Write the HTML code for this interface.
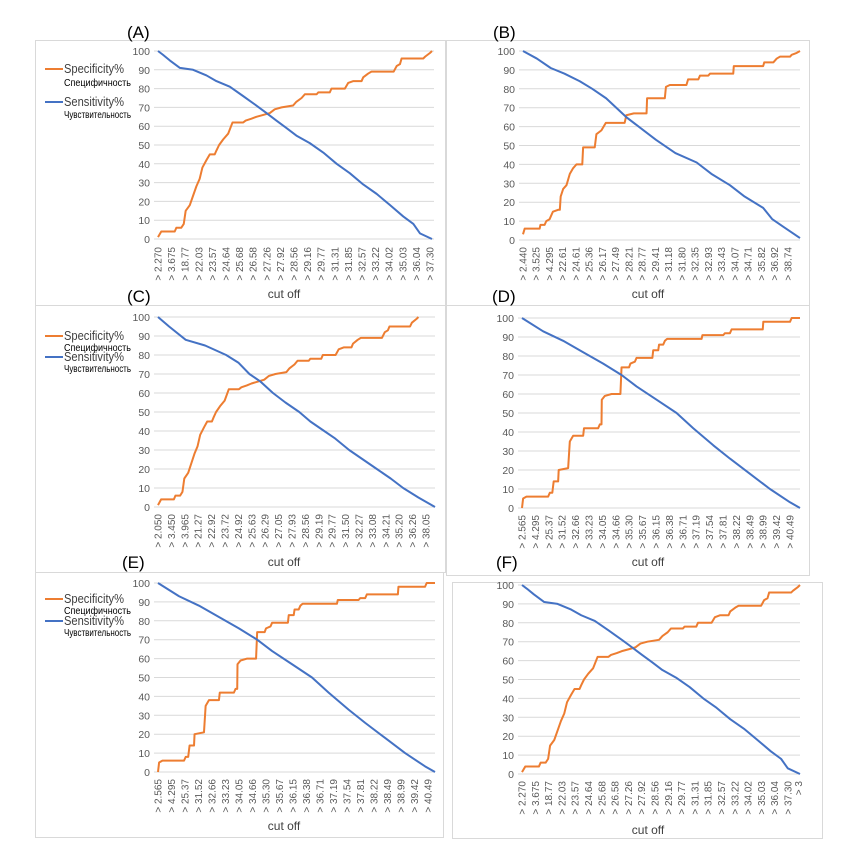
<!DOCTYPE html>
<html><head><meta charset="utf-8"><style>
html,body{margin:0;padding:0;background:#fff;}
svg{display:block;font-family:"Liberation Sans","DejaVu Sans",sans-serif;}
.t{font-size:10px;fill:#595959;}
.y{font-size:10.5px;fill:#595959;text-anchor:end;}
.g{stroke:#d9d9d9;stroke-width:1;}
.o{fill:none;stroke:#ed7d31;stroke-width:2;vector-effect:non-scaling-stroke;stroke-linejoin:round;}
.b{fill:none;stroke:#4472c4;stroke-width:2;vector-effect:non-scaling-stroke;stroke-linejoin:round;}
.ttl{font-size:17px;fill:#000;}
.co{font-size:12px;fill:#404040;text-anchor:middle;}
.l1{font-size:13px;fill:#404040;}
.l2{font-size:10.5px;fill:#000;}
</style></head><body>
<svg width="844" height="866" viewBox="0 0 844 866">
<g fill="none" stroke="#d9d9d9" stroke-width="1">
<rect x="35.5" y="40.5" width="410" height="265"/>
<rect x="446.5" y="40.5" width="363" height="265"/>
<rect x="35.5" y="305.5" width="410" height="267"/>
<rect x="446.5" y="305.5" width="363" height="270"/>
<rect x="35.5" y="572.5" width="408" height="265"/>
<rect x="452.5" y="582.5" width="370" height="256"/>
</g>
<text class="ttl" x="127" y="38">(A)</text>
<text class="ttl" x="493" y="38">(B)</text>
<text class="ttl" x="127" y="302">(C)</text>
<text class="ttl" x="492" y="302">(D)</text>
<text class="ttl" x="122" y="568">(E)</text>
<text class="ttl" x="496" y="568">(F)</text>
<text class="co" x="284" y="298">cut off</text>
<text class="co" x="648" y="298">cut off</text>
<text class="co" x="284" y="566">cut off</text>
<text class="co" x="648" y="566">cut off</text>
<text class="co" x="284" y="830">cut off</text>
<text class="co" x="648" y="834">cut off</text>

<g>
<line x1="45" y1="69" x2="63" y2="69" stroke="#ed7d31" stroke-width="2"/>
<text class="l1" x="64" y="73" textLength="60" lengthAdjust="spacingAndGlyphs">Specificity%</text><text class="l2" x="64" y="86" textLength="67" lengthAdjust="spacingAndGlyphs">Специфичность</text>
<line x1="45" y1="102" x2="63" y2="102" stroke="#4472c4" stroke-width="2"/>
<text class="l1" x="64" y="106" textLength="60" lengthAdjust="spacingAndGlyphs">Sensitivity%</text><text class="l2" x="64" y="118" textLength="67" lengthAdjust="spacingAndGlyphs">Чувствительность</text>
</g>
<g>
<line x1="45" y1="336" x2="63" y2="336" stroke="#ed7d31" stroke-width="2"/>
<text class="l1" x="64" y="340" textLength="60" lengthAdjust="spacingAndGlyphs">Specificity%</text><text class="l2" x="64" y="351" textLength="67" lengthAdjust="spacingAndGlyphs">Специфичность</text>
<line x1="45" y1="357" x2="63" y2="357" stroke="#4472c4" stroke-width="2"/>
<text class="l1" x="64" y="361" textLength="60" lengthAdjust="spacingAndGlyphs">Sensitivity%</text><text class="l2" x="64" y="372" textLength="67" lengthAdjust="spacingAndGlyphs">Чувствительность</text>
</g>
<g>
<line x1="45" y1="599" x2="63" y2="599" stroke="#ed7d31" stroke-width="2"/>
<text class="l1" x="64" y="603" textLength="60" lengthAdjust="spacingAndGlyphs">Specificity%</text><text class="l2" x="64" y="614" textLength="67" lengthAdjust="spacingAndGlyphs">Специфичность</text>
<line x1="45" y1="621" x2="63" y2="621" stroke="#4472c4" stroke-width="2"/>
<text class="l1" x="64" y="625" textLength="60" lengthAdjust="spacingAndGlyphs">Sensitivity%</text><text class="l2" x="64" y="636" textLength="67" lengthAdjust="spacingAndGlyphs">Чувствительность</text>
</g>

<g transform="translate(158,51)">
<g class="g"><line x1="-4" y1="0" x2="276" y2="0"/><line x1="-4" y1="18.8" x2="276" y2="18.8"/><line x1="-4" y1="37.6" x2="276" y2="37.6"/><line x1="-4" y1="56.4" x2="276" y2="56.4"/><line x1="-4" y1="75.2" x2="276" y2="75.2"/><line x1="-4" y1="94" x2="276" y2="94"/><line x1="-4" y1="112.8" x2="276" y2="112.8"/><line x1="-4" y1="131.6" x2="276" y2="131.6"/><line x1="-4" y1="150.4" x2="276" y2="150.4"/><line x1="-4" y1="169.2" x2="276" y2="169.2"/><line x1="-4" y1="188" x2="276" y2="188"/></g>
<g class="y"><text x="-8" y="4">100</text><text x="-8" y="22.8">90</text><text x="-8" y="41.6">80</text><text x="-8" y="60.4">70</text><text x="-8" y="79.2">60</text><text x="-8" y="98">50</text><text x="-8" y="116.8">40</text><text x="-8" y="135.6">30</text><text x="-8" y="154.4">20</text><text x="-8" y="173.2">10</text><text x="-8" y="192">0</text></g>
<svg x="0" y="0" width="274" height="188" viewBox="0 -100 100 100" preserveAspectRatio="none" overflow="visible">
<polyline class="o" points="0,-1 1.2,-4 6.1,-4 6.7,-6 8.5,-6 9.4,-8 10.1,-15 11.6,-18 12.8,-23 14,-28 15.2,-32 16.2,-38 17.7,-42 18.9,-45 20.7,-45 21.3,-47 22.3,-50 23.8,-53 25.6,-56 27.2,-62 31.1,-62 32,-63 34.1,-64 35.9,-65 38.4,-66 40.8,-67 42.6,-69 45.1,-70 49.3,-71 50.5,-73 52.4,-75 53.6,-77 57.9,-77 58.5,-78 62.7,-78 63.3,-80 68.2,-80 69.4,-83 71.3,-84 74.3,-84 74.9,-86 76.7,-88 77.9,-89 86,-89 87.1,-92 88.3,-93 88.9,-96 96.8,-96 97.5,-97 99.3,-99 100,-100"/>
<polyline class="b" points="0,-100 1.8,-98 4.3,-95 8,-91 12.8,-90 17.7,-87 21.3,-84 26.2,-81 31.1,-76 35.9,-71 39.6,-67 43.2,-63 46.9,-59 50.5,-55 55.4,-51 60.3,-46 65.2,-40 70,-35 74.9,-29 79.8,-24 84.7,-18 89.5,-12 93.2,-8 95.6,-3 100,0"/>
</svg>
<g class="t" text-anchor="end">
<text transform="translate(3.5,196) rotate(-90)">&gt; 2.270</text>
<text transform="translate(17.1,196) rotate(-90)">&gt; 3.675</text>
<text transform="translate(30.7,196) rotate(-90)">&gt; 18.77</text>
<text transform="translate(44.3,196) rotate(-90)">&gt; 22.03</text>
<text transform="translate(57.9,196) rotate(-90)">&gt; 23.57</text>
<text transform="translate(71.5,196) rotate(-90)">&gt; 24.64</text>
<text transform="translate(85.1,196) rotate(-90)">&gt; 25.68</text>
<text transform="translate(98.7,196) rotate(-90)">&gt; 26.58</text>
<text transform="translate(112.3,196) rotate(-90)">&gt; 27.26</text>
<text transform="translate(125.9,196) rotate(-90)">&gt; 27.92</text>
<text transform="translate(139.5,196) rotate(-90)">&gt; 28.56</text>
<text transform="translate(153.1,196) rotate(-90)">&gt; 29.16</text>
<text transform="translate(166.7,196) rotate(-90)">&gt; 29.77</text>
<text transform="translate(180.3,196) rotate(-90)">&gt; 31.31</text>
<text transform="translate(193.9,196) rotate(-90)">&gt; 31.85</text>
<text transform="translate(207.5,196) rotate(-90)">&gt; 32.57</text>
<text transform="translate(221.1,196) rotate(-90)">&gt; 33.22</text>
<text transform="translate(234.7,196) rotate(-90)">&gt; 34.02</text>
<text transform="translate(248.3,196) rotate(-90)">&gt; 35.03</text>
<text transform="translate(261.9,196) rotate(-90)">&gt; 36.04</text>
<text transform="translate(275.5,196) rotate(-90)">&gt; 37.30</text>
</g>
</g>

<g transform="translate(523,51)">
<g class="g"><line x1="-4" y1="0" x2="277" y2="0"/><line x1="-4" y1="18.9" x2="277" y2="18.9"/><line x1="-4" y1="37.8" x2="277" y2="37.8"/><line x1="-4" y1="56.7" x2="277" y2="56.7"/><line x1="-4" y1="75.6" x2="277" y2="75.6"/><line x1="-4" y1="94.5" x2="277" y2="94.5"/><line x1="-4" y1="113.4" x2="277" y2="113.4"/><line x1="-4" y1="132.3" x2="277" y2="132.3"/><line x1="-4" y1="151.2" x2="277" y2="151.2"/><line x1="-4" y1="170.1" x2="277" y2="170.1"/><line x1="-4" y1="189" x2="277" y2="189"/></g>
<g class="y"><text x="-8" y="4">100</text><text x="-8" y="22.9">90</text><text x="-8" y="41.8">80</text><text x="-8" y="60.7">70</text><text x="-8" y="79.6">60</text><text x="-8" y="98.5">50</text><text x="-8" y="117.4">40</text><text x="-8" y="136.3">30</text><text x="-8" y="155.2">20</text><text x="-8" y="174.1">10</text><text x="-8" y="193">0</text></g>
<svg x="0" y="0" width="277" height="189" viewBox="0 -100 100 100" preserveAspectRatio="none" overflow="visible">
<polyline class="o" points="0,-3 0.6,-6 6,-6 6.3,-8 7.8,-8 8.4,-10 9.6,-11 10.8,-15 12.7,-16 13.3,-16 13.6,-23 14.5,-27 15.7,-29 16.9,-35 18.1,-38 19.3,-40 21.4,-40 21.7,-49 25.9,-49 26.5,-56 28.3,-58 29.9,-62 36.7,-62 37.3,-66 40,-67 44.6,-67 44.8,-75 51.2,-75 51.6,-81 53,-82 59,-82 59.6,-85 63.3,-85 63.9,-87 66.9,-87 67.5,-88 75.9,-88 76.1,-92 86.7,-92 87.1,-94 90.4,-94 91.6,-96 92.8,-97 96.4,-97 97,-98 98.8,-99 100,-100"/>
<polyline class="b" points="0,-100 5,-96 10,-91 15,-88 20.5,-84 25,-80 30,-75 37.3,-65 48,-53 55,-46 62.7,-41 68,-35 74.7,-29 80,-23 86.7,-17 90,-11 94,-7 97,-4 100,-1"/>
</svg>
<g class="t" text-anchor="end">
<text transform="translate(3.5,196) rotate(-90)">&gt; 2.440</text>
<text transform="translate(16.7,196) rotate(-90)">&gt; 3.525</text>
<text transform="translate(30,196) rotate(-90)">&gt; 4.295</text>
<text transform="translate(43.2,196) rotate(-90)">&gt; 22.61</text>
<text transform="translate(56.5,196) rotate(-90)">&gt; 24.61</text>
<text transform="translate(69.7,196) rotate(-90)">&gt; 25.36</text>
<text transform="translate(83,196) rotate(-90)">&gt; 26.17</text>
<text transform="translate(96.2,196) rotate(-90)">&gt; 27.49</text>
<text transform="translate(109.5,196) rotate(-90)">&gt; 28.21</text>
<text transform="translate(122.7,196) rotate(-90)">&gt; 28.77</text>
<text transform="translate(136,196) rotate(-90)">&gt; 29.41</text>
<text transform="translate(149.2,196) rotate(-90)">&gt; 31.18</text>
<text transform="translate(162.5,196) rotate(-90)">&gt; 31.80</text>
<text transform="translate(175.7,196) rotate(-90)">&gt; 32.35</text>
<text transform="translate(189,196) rotate(-90)">&gt; 32.93</text>
<text transform="translate(202.2,196) rotate(-90)">&gt; 33.43</text>
<text transform="translate(215.5,196) rotate(-90)">&gt; 34.07</text>
<text transform="translate(228.7,196) rotate(-90)">&gt; 34.71</text>
<text transform="translate(242,196) rotate(-90)">&gt; 35.82</text>
<text transform="translate(255.2,196) rotate(-90)">&gt; 36.92</text>
<text transform="translate(268.5,196) rotate(-90)">&gt; 38.74</text>
</g>
</g>

<g transform="translate(158,317)">
<g class="g"><line x1="-4" y1="0" x2="277" y2="0"/><line x1="-4" y1="19" x2="277" y2="19"/><line x1="-4" y1="38" x2="277" y2="38"/><line x1="-4" y1="57" x2="277" y2="57"/><line x1="-4" y1="76" x2="277" y2="76"/><line x1="-4" y1="95" x2="277" y2="95"/><line x1="-4" y1="114" x2="277" y2="114"/><line x1="-4" y1="133" x2="277" y2="133"/><line x1="-4" y1="152" x2="277" y2="152"/><line x1="-4" y1="171" x2="277" y2="171"/><line x1="-4" y1="190" x2="277" y2="190"/></g>
<g class="y"><text x="-8" y="4">100</text><text x="-8" y="23">90</text><text x="-8" y="42">80</text><text x="-8" y="61">70</text><text x="-8" y="80">60</text><text x="-8" y="99">50</text><text x="-8" y="118">40</text><text x="-8" y="137">30</text><text x="-8" y="156">20</text><text x="-8" y="175">10</text><text x="-8" y="194">0</text></g>
<svg x="0" y="0" width="277" height="190" viewBox="0 -100 100 100" preserveAspectRatio="none" overflow="visible">
<polyline class="o" transform="scale(0.94,1)" points="0,-1 1.2,-4 6.1,-4 6.7,-6 8.5,-6 9.4,-8 10.1,-15 11.6,-18 12.8,-23 14,-28 15.2,-32 16.2,-38 17.7,-42 18.9,-45 20.7,-45 21.3,-47 22.3,-50 23.8,-53 25.6,-56 27.2,-62 31.1,-62 32,-63 34.1,-64 35.9,-65 38.4,-66 40.8,-67 42.6,-69 45.1,-70 49.3,-71 50.5,-73 52.4,-75 53.6,-77 57.9,-77 58.5,-78 62.7,-78 63.3,-80 68.2,-80 69.4,-83 71.3,-84 74.3,-84 74.9,-86 76.7,-88 77.9,-89 86,-89 87.1,-92 88.3,-93 88.9,-95 96.8,-95 97.5,-97 99.3,-99 100,-100"/>
<polyline class="b" points="0,-100 4,-95 10,-88 17,-85 24.6,-80 29,-76 33,-70 37,-66 41.5,-60 46,-55 51,-50 55,-45 60,-40 64,-36 69,-30 74,-25 79,-20 84,-15 88.5,-10 94,-5 100,0"/>
</svg>
<g class="t" text-anchor="end">
<text transform="translate(3.5,197) rotate(-90)">&gt; 2.050</text>
<text transform="translate(16.9,197) rotate(-90)">&gt; 3.450</text>
<text transform="translate(30.3,197) rotate(-90)">&gt; 3.965</text>
<text transform="translate(43.7,197) rotate(-90)">&gt; 21.27</text>
<text transform="translate(57.1,197) rotate(-90)">&gt; 22.92</text>
<text transform="translate(70.5,197) rotate(-90)">&gt; 23.72</text>
<text transform="translate(83.9,197) rotate(-90)">&gt; 24.92</text>
<text transform="translate(97.3,197) rotate(-90)">&gt; 25.63</text>
<text transform="translate(110.7,197) rotate(-90)">&gt; 26.29</text>
<text transform="translate(124.1,197) rotate(-90)">&gt; 27.05</text>
<text transform="translate(137.5,197) rotate(-90)">&gt; 27.93</text>
<text transform="translate(150.9,197) rotate(-90)">&gt; 28.56</text>
<text transform="translate(164.3,197) rotate(-90)">&gt; 29.19</text>
<text transform="translate(177.7,197) rotate(-90)">&gt; 29.77</text>
<text transform="translate(191.1,197) rotate(-90)">&gt; 31.50</text>
<text transform="translate(204.5,197) rotate(-90)">&gt; 32.27</text>
<text transform="translate(217.9,197) rotate(-90)">&gt; 33.08</text>
<text transform="translate(231.3,197) rotate(-90)">&gt; 34.21</text>
<text transform="translate(244.7,197) rotate(-90)">&gt; 35.20</text>
<text transform="translate(258.1,197) rotate(-90)">&gt; 36.26</text>
<text transform="translate(271.5,197) rotate(-90)">&gt; 38.05</text>
</g>
</g>

<g transform="translate(522,318)">
<g class="g"><line x1="-4" y1="0" x2="278" y2="0"/><line x1="-4" y1="19" x2="278" y2="19"/><line x1="-4" y1="38" x2="278" y2="38"/><line x1="-4" y1="57" x2="278" y2="57"/><line x1="-4" y1="76" x2="278" y2="76"/><line x1="-4" y1="95" x2="278" y2="95"/><line x1="-4" y1="114" x2="278" y2="114"/><line x1="-4" y1="133" x2="278" y2="133"/><line x1="-4" y1="152" x2="278" y2="152"/><line x1="-4" y1="171" x2="278" y2="171"/><line x1="-4" y1="190" x2="278" y2="190"/></g>
<g class="y"><text x="-8" y="4">100</text><text x="-8" y="23">90</text><text x="-8" y="42">80</text><text x="-8" y="61">70</text><text x="-8" y="80">60</text><text x="-8" y="99">50</text><text x="-8" y="118">40</text><text x="-8" y="137">30</text><text x="-8" y="156">20</text><text x="-8" y="175">10</text><text x="-8" y="194">0</text></g>
<svg x="0" y="0" width="278" height="190" viewBox="0 -100 100 100" preserveAspectRatio="none" overflow="visible">
<polyline class="o" points="0,0 0.4,-5 1.6,-6 9.4,-6 10,-8 10.9,-8 11.4,-14 13,-14 13.2,-20 16.6,-21 17.2,-35 18.4,-38 22,-38 22.3,-42 27.4,-42 28,-44 28.6,-44 28.7,-57 29.8,-59 32.2,-60 35.4,-60 35.8,-74 38.5,-74 39,-76 40.6,-77 41.2,-79 46.9,-79 47.2,-83 49,-83 49.3,-86 50.8,-86 51.4,-88 52.2,-89 64.6,-89 64.9,-91 72.4,-91 73,-92 74.8,-92 75.4,-94 86.6,-94 86.8,-98 96.4,-98 97,-100 100,-100"/>
<polyline class="b" points="0,-100 7.6,-93 14.8,-88 22,-82 29.2,-76 35.8,-70 41.2,-64 48.4,-57 55.6,-50 61.6,-42 68.8,-33 74.8,-26 82,-18 89.2,-10 96.4,-3 100,0"/>
</svg>
<g class="t" text-anchor="end">
<text transform="translate(3.5,197) rotate(-90)">&gt; 2.565</text>
<text transform="translate(16.9,197) rotate(-90)">&gt; 4.295</text>
<text transform="translate(30.3,197) rotate(-90)">&gt; 25.37</text>
<text transform="translate(43.7,197) rotate(-90)">&gt; 31.52</text>
<text transform="translate(57.1,197) rotate(-90)">&gt; 32.66</text>
<text transform="translate(70.5,197) rotate(-90)">&gt; 33.23</text>
<text transform="translate(83.9,197) rotate(-90)">&gt; 34.05</text>
<text transform="translate(97.3,197) rotate(-90)">&gt; 34.66</text>
<text transform="translate(110.7,197) rotate(-90)">&gt; 35.30</text>
<text transform="translate(124.1,197) rotate(-90)">&gt; 35.67</text>
<text transform="translate(137.5,197) rotate(-90)">&gt; 36.15</text>
<text transform="translate(150.9,197) rotate(-90)">&gt; 36.38</text>
<text transform="translate(164.3,197) rotate(-90)">&gt; 36.71</text>
<text transform="translate(177.7,197) rotate(-90)">&gt; 37.19</text>
<text transform="translate(191.1,197) rotate(-90)">&gt; 37.54</text>
<text transform="translate(204.5,197) rotate(-90)">&gt; 37.81</text>
<text transform="translate(217.9,197) rotate(-90)">&gt; 38.22</text>
<text transform="translate(231.3,197) rotate(-90)">&gt; 38.49</text>
<text transform="translate(244.7,197) rotate(-90)">&gt; 38.99</text>
<text transform="translate(258.1,197) rotate(-90)">&gt; 39.42</text>
<text transform="translate(271.5,197) rotate(-90)">&gt; 40.49</text>
</g>
</g>

<g transform="translate(158,583)">
<g class="g"><line x1="-4" y1="0" x2="277" y2="0"/><line x1="-4" y1="18.9" x2="277" y2="18.9"/><line x1="-4" y1="37.8" x2="277" y2="37.8"/><line x1="-4" y1="56.7" x2="277" y2="56.7"/><line x1="-4" y1="75.6" x2="277" y2="75.6"/><line x1="-4" y1="94.5" x2="277" y2="94.5"/><line x1="-4" y1="113.4" x2="277" y2="113.4"/><line x1="-4" y1="132.3" x2="277" y2="132.3"/><line x1="-4" y1="151.2" x2="277" y2="151.2"/><line x1="-4" y1="170.1" x2="277" y2="170.1"/><line x1="-4" y1="189" x2="277" y2="189"/></g>
<g class="y"><text x="-8" y="4">100</text><text x="-8" y="22.9">90</text><text x="-8" y="41.8">80</text><text x="-8" y="60.7">70</text><text x="-8" y="79.6">60</text><text x="-8" y="98.5">50</text><text x="-8" y="117.4">40</text><text x="-8" y="136.3">30</text><text x="-8" y="155.2">20</text><text x="-8" y="174.1">10</text><text x="-8" y="193">0</text></g>
<svg x="0" y="0" width="277" height="189" viewBox="0 -100 100 100" preserveAspectRatio="none" overflow="visible">
<polyline class="o" points="0,0 0.4,-5 1.6,-6 9.4,-6 10,-8 10.9,-8 11.4,-14 13,-14 13.2,-20 16.6,-21 17.2,-35 18.4,-38 22,-38 22.3,-42 27.4,-42 28,-44 28.6,-44 28.7,-57 29.8,-59 32.2,-60 35.4,-60 35.8,-74 38.5,-74 39,-76 40.6,-77 41.2,-79 46.9,-79 47.2,-83 49,-83 49.3,-86 50.8,-86 51.4,-88 52.2,-89 64.6,-89 64.9,-91 72.4,-91 73,-92 74.8,-92 75.4,-94 86.6,-94 86.8,-98 96.4,-98 97,-100 100,-100"/>
<polyline class="b" points="0,-100 7.6,-93 14.8,-88 22,-82 29.2,-76 35.8,-70 41.2,-64 48.4,-57 55.6,-50 61.6,-42 68.8,-33 74.8,-26 82,-18 89.2,-10 96.4,-3 100,0"/>
</svg>
<g class="t" text-anchor="end">
<text transform="translate(3.5,196) rotate(-90)">&gt; 2.565</text>
<text transform="translate(17,196) rotate(-90)">&gt; 4.295</text>
<text transform="translate(30.5,196) rotate(-90)">&gt; 25.37</text>
<text transform="translate(44,196) rotate(-90)">&gt; 31.52</text>
<text transform="translate(57.5,196) rotate(-90)">&gt; 32.66</text>
<text transform="translate(71,196) rotate(-90)">&gt; 33.23</text>
<text transform="translate(84.5,196) rotate(-90)">&gt; 34.05</text>
<text transform="translate(98,196) rotate(-90)">&gt; 34.66</text>
<text transform="translate(111.5,196) rotate(-90)">&gt; 35.30</text>
<text transform="translate(125,196) rotate(-90)">&gt; 35.67</text>
<text transform="translate(138.5,196) rotate(-90)">&gt; 36.15</text>
<text transform="translate(152,196) rotate(-90)">&gt; 36.38</text>
<text transform="translate(165.5,196) rotate(-90)">&gt; 36.71</text>
<text transform="translate(179,196) rotate(-90)">&gt; 37.19</text>
<text transform="translate(192.5,196) rotate(-90)">&gt; 37.54</text>
<text transform="translate(206,196) rotate(-90)">&gt; 37.81</text>
<text transform="translate(219.5,196) rotate(-90)">&gt; 38.22</text>
<text transform="translate(233,196) rotate(-90)">&gt; 38.49</text>
<text transform="translate(246.5,196) rotate(-90)">&gt; 38.99</text>
<text transform="translate(260,196) rotate(-90)">&gt; 39.42</text>
<text transform="translate(273.5,196) rotate(-90)">&gt; 40.49</text>
</g>
</g>

<g transform="translate(522,585)">
<g class="g"><line x1="-4" y1="0" x2="278" y2="0"/><line x1="-4" y1="18.9" x2="278" y2="18.9"/><line x1="-4" y1="37.8" x2="278" y2="37.8"/><line x1="-4" y1="56.7" x2="278" y2="56.7"/><line x1="-4" y1="75.6" x2="278" y2="75.6"/><line x1="-4" y1="94.5" x2="278" y2="94.5"/><line x1="-4" y1="113.4" x2="278" y2="113.4"/><line x1="-4" y1="132.3" x2="278" y2="132.3"/><line x1="-4" y1="151.2" x2="278" y2="151.2"/><line x1="-4" y1="170.1" x2="278" y2="170.1"/><line x1="-4" y1="189" x2="278" y2="189"/></g>
<g class="y"><text x="-8" y="4">100</text><text x="-8" y="22.9">90</text><text x="-8" y="41.8">80</text><text x="-8" y="60.7">70</text><text x="-8" y="79.6">60</text><text x="-8" y="98.5">50</text><text x="-8" y="117.4">40</text><text x="-8" y="136.3">30</text><text x="-8" y="155.2">20</text><text x="-8" y="174.1">10</text><text x="-8" y="193">0</text></g>
<svg x="0" y="0" width="278" height="189" viewBox="0 -100 100 100" preserveAspectRatio="none" overflow="visible">
<polyline class="o" points="0,-1 1.2,-4 6.1,-4 6.7,-6 8.5,-6 9.4,-8 10.1,-15 11.6,-18 12.8,-23 14,-28 15.2,-32 16.2,-38 17.7,-42 18.9,-45 20.7,-45 21.3,-47 22.3,-50 23.8,-53 25.6,-56 27.2,-62 31.1,-62 32,-63 34.1,-64 35.9,-65 38.4,-66 40.8,-67 42.6,-69 45.1,-70 49.3,-71 50.5,-73 52.4,-75 53.6,-77 57.9,-77 58.5,-78 62.7,-78 63.3,-80 68.2,-80 69.4,-83 71.3,-84 74.3,-84 74.9,-86 76.7,-88 77.9,-89 86,-89 87.1,-92 88.3,-93 88.9,-96 96.8,-96 97.5,-97 99.3,-99 100,-100"/>
<polyline class="b" points="0,-100 1.8,-98 4.3,-95 8,-91 12.8,-90 17.7,-87 21.3,-84 26.2,-81 31.1,-76 35.9,-71 39.6,-67 43.2,-63 46.9,-59 50.5,-55 55.4,-51 60.3,-46 65.2,-40 70,-35 74.9,-29 79.8,-24 84.7,-18 89.5,-12 93.2,-8 95.6,-3 100,0"/>
</svg>
<g class="t" text-anchor="end">
<text transform="translate(3.5,196) rotate(-90)">&gt; 2.270</text>
<text transform="translate(16.8,196) rotate(-90)">&gt; 3.675</text>
<text transform="translate(30.1,196) rotate(-90)">&gt; 18.77</text>
<text transform="translate(43.4,196) rotate(-90)">&gt; 22.03</text>
<text transform="translate(56.7,196) rotate(-90)">&gt; 23.57</text>
<text transform="translate(70,196) rotate(-90)">&gt; 24.64</text>
<text transform="translate(83.3,196) rotate(-90)">&gt; 25.68</text>
<text transform="translate(96.6,196) rotate(-90)">&gt; 26.58</text>
<text transform="translate(109.9,196) rotate(-90)">&gt; 27.26</text>
<text transform="translate(123.2,196) rotate(-90)">&gt; 27.92</text>
<text transform="translate(136.5,196) rotate(-90)">&gt; 28.56</text>
<text transform="translate(149.8,196) rotate(-90)">&gt; 29.16</text>
<text transform="translate(163.1,196) rotate(-90)">&gt; 29.77</text>
<text transform="translate(176.4,196) rotate(-90)">&gt; 31.31</text>
<text transform="translate(189.7,196) rotate(-90)">&gt; 31.85</text>
<text transform="translate(203,196) rotate(-90)">&gt; 32.57</text>
<text transform="translate(216.3,196) rotate(-90)">&gt; 33.22</text>
<text transform="translate(229.6,196) rotate(-90)">&gt; 34.02</text>
<text transform="translate(242.9,196) rotate(-90)">&gt; 35.03</text>
<text transform="translate(256.2,196) rotate(-90)">&gt; 36.04</text>
<text transform="translate(269.5,196) rotate(-90)">&gt; 37.30</text>
<text transform="translate(280,196) rotate(-90)">&gt; 3</text>
</g>
</g>
</svg>
</body></html>
